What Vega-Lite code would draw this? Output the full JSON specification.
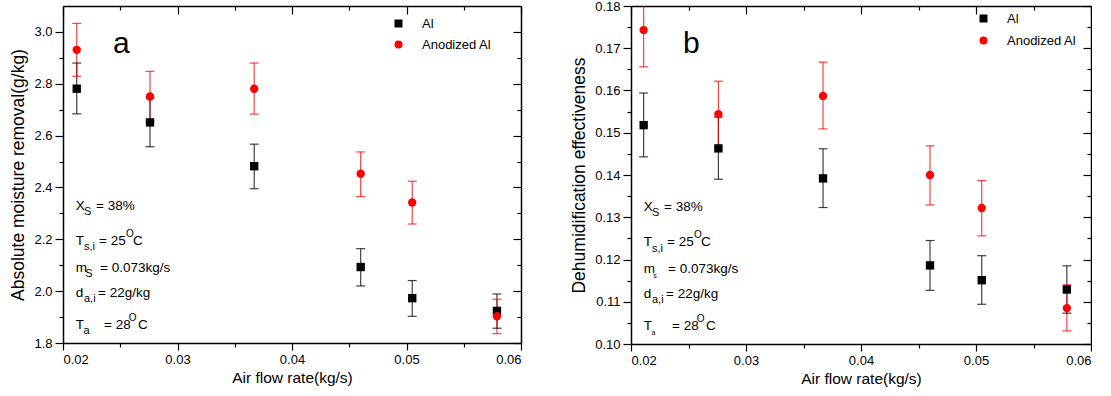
{
  "$schema": "https://vega.github.io/schema/vega-lite/v6.json",
  "padding": {"left": 9, "top": 0, "right": 0, "bottom": 0},
  "autosize": {"type": "pad"},
  "background": "white",
  "bounds": "flush",
  "spacing": 110,
  "config": {
    "font": "Liberation Sans",
    "view": {"stroke": null},
    "axis": {
      "grid": false,
      "domainColor": "black",
      "domainWidth": 1.5,
      "tickColor": "black",
      "tickWidth": 1.2,
      "labelColor": "black",
      "labelFontSize": 13,
      "labelFont": "Liberation Sans",
      "titleFont": "Liberation Sans",
      "titleColor": "black",
      "titleFontWeight": "normal",
      "labelPadding": 3
    },
    "legend": {"labelFont": "Liberation Sans", "labelColor": "black"}
  },
  "resolve": {"scale": {"color": "independent", "shape": "independent", "size": "independent"}},
  "datasets": {
    "a": [
      {"series": "Al", "x": 0.0212, "y": 2.781, "lo": 2.684, "hi": 2.880},
      {"series": "Al", "x": 0.0276, "y": 2.651, "lo": 2.557, "hi": 2.745},
      {"series": "Al", "x": 0.0367, "y": 2.482, "lo": 2.395, "hi": 2.567},
      {"series": "Al", "x": 0.0460, "y": 2.093, "lo": 2.020, "hi": 2.164},
      {"series": "Al", "x": 0.0505, "y": 1.973, "lo": 1.903, "hi": 2.041},
      {"series": "Al", "x": 0.0579, "y": 1.924, "lo": 1.857, "hi": 1.989},
      {"series": "Anodized Al", "x": 0.0212, "y": 2.931, "lo": 2.829, "hi": 3.033},
      {"series": "Anodized Al", "x": 0.0276, "y": 2.751, "lo": 2.655, "hi": 2.848},
      {"series": "Anodized Al", "x": 0.0367, "y": 2.781, "lo": 2.683, "hi": 2.880},
      {"series": "Anodized Al", "x": 0.0460, "y": 2.453, "lo": 2.365, "hi": 2.537},
      {"series": "Anodized Al", "x": 0.0505, "y": 2.342, "lo": 2.259, "hi": 2.424},
      {"series": "Anodized Al", "x": 0.0579, "y": 1.903, "lo": 1.836, "hi": 1.969}
    ],
    "b": [
      {"series": "Al", "x": 0.0211, "y": 0.1518, "lo": 0.1443, "hi": 0.1594},
      {"series": "Al", "x": 0.0276, "y": 0.1463, "lo": 0.1390, "hi": 0.1537},
      {"series": "Al", "x": 0.0367, "y": 0.1392, "lo": 0.1323, "hi": 0.1462},
      {"series": "Al", "x": 0.0460, "y": 0.1186, "lo": 0.1127, "hi": 0.1245},
      {"series": "Al", "x": 0.0505, "y": 0.1151, "lo": 0.1094, "hi": 0.1209},
      {"series": "Al", "x": 0.0579, "y": 0.1129, "lo": 0.1073, "hi": 0.1185},
      {"series": "Anodized Al", "x": 0.0211, "y": 0.1743, "lo": 0.1656, "hi": 0.1830},
      {"series": "Anodized Al", "x": 0.0276, "y": 0.1544, "lo": 0.1466, "hi": 0.1622},
      {"series": "Anodized Al", "x": 0.0367, "y": 0.1587, "lo": 0.1509, "hi": 0.1667},
      {"series": "Anodized Al", "x": 0.0460, "y": 0.1400, "lo": 0.1329, "hi": 0.1469},
      {"series": "Anodized Al", "x": 0.0505, "y": 0.1322, "lo": 0.1256, "hi": 0.1387},
      {"series": "Anodized Al", "x": 0.0579, "y": 0.1085, "lo": 0.1031, "hi": 0.1140}
    ],
    "notesA": [
      {"t": "a", "role": "big", "x": 0.02437, "y": 2.9197},
      {"t": "X", "role": "main", "x": 0.021109, "y": 2.3135},
      {"t": "S", "role": "sub", "x": 0.021834, "y": 2.2942},
      {"t": "= 38%", "role": "main", "x": 0.022882, "y": 2.3135},
      {"t": "T", "role": "main", "x": 0.021109, "y": 2.1784},
      {"t": "s,i", "role": "sub", "x": 0.021834, "y": 2.1571},
      {"t": "= 25", "role": "main", "x": 0.023144, "y": 2.1784},
      {"t": "O", "role": "sup", "x": 0.025502, "y": 2.2093},
      {"t": "C", "role": "main", "x": 0.026114, "y": 2.1784},
      {"t": "m", "role": "main", "x": 0.021109, "y": 2.0753},
      {"t": "S", "role": "sub", "x": 0.021948, "y": 2.0548},
      {"t": "= 0.073kg/s", "role": "main", "x": 0.023231, "y": 2.0753},
      {"t": "d", "role": "main", "x": 0.021109, "y": 1.9776},
      {"t": "a,i", "role": "sub", "x": 0.021834, "y": 1.9583},
      {"t": "= 22g/kg", "role": "main", "x": 0.023057, "y": 1.9776},
      {"t": "T", "role": "main", "x": 0.021109, "y": 1.8541},
      {"t": "a", "role": "sub", "x": 0.02179, "y": 1.8347},
      {"t": "= 28", "role": "main", "x": 0.023581, "y": 1.8541},
      {"t": "O", "role": "sup", "x": 0.025738, "y": 1.8849},
      {"t": "C", "role": "main", "x": 0.02655, "y": 1.8541}
    ],
    "notesB": [
      {"t": "b", "role": "big", "x": 0.02452, "y": 0.1688},
      {"t": "X", "role": "main", "x": 0.021104, "y": 0.13148},
      {"t": "S", "role": "sub", "x": 0.021826, "y": 0.13030},
      {"t": "= 38%", "role": "main", "x": 0.02287, "y": 0.13148},
      {"t": "T", "role": "main", "x": 0.021104, "y": 0.1232},
      {"t": "s,i", "role": "sub", "x": 0.021826, "y": 0.12189},
      {"t": "= 25", "role": "main", "x": 0.02313, "y": 0.1232},
      {"t": "O", "role": "sup", "x": 0.025478, "y": 0.12509},
      {"t": "C", "role": "main", "x": 0.026087, "y": 0.1232},
      {"t": "m", "role": "main", "x": 0.021104, "y": 0.11688},
      {"t": "s", "role": "tiny", "x": 0.021939, "y": 0.11562},
      {"t": "= 0.073kg/s", "role": "main", "x": 0.023217, "y": 0.11688},
      {"t": "d", "role": "main", "x": 0.021104, "y": 0.11089},
      {"t": "a,i", "role": "sub", "x": 0.021826, "y": 0.1097},
      {"t": "= 22g/kg", "role": "main", "x": 0.023043, "y": 0.11089},
      {"t": "T", "role": "main", "x": 0.021104, "y": 0.10331},
      {"t": "a", "role": "tiny", "x": 0.021783, "y": 0.10213},
      {"t": "= 28", "role": "main", "x": 0.023565, "y": 0.10331},
      {"t": "O", "role": "sup", "x": 0.025713, "y": 0.10521},
      {"t": "C", "role": "main", "x": 0.026522, "y": 0.10331}
    ]
  },
  "hconcat": [
    {
      "width": 458,
      "height": 337,
      "resolve": {"axis": {"x": "independent", "y": "independent"}},
      "layer": [
        {
          "data": {"name": "a"},
          "mark": {"type": "rule", "clip": true, "strokeWidth": 1.2, "opacity": 0.75},
          "encoding": {
            "x": {"field": "x", "type": "quantitative", "scale": {"domain": [0.02, 0.06], "nice": false, "zero": false},
              "axis": {"orient": "bottom", "values": [0.02, 0.03, 0.04, 0.05, 0.06], "format": ".2f", "title": "Air flow rate(kg/s)", "titleFontSize": 15.5, "titlePadding": 4, "tickSize": 7}},
            "y": {"field": "lo", "type": "quantitative", "scale": {"domain": [1.8, 3.1], "nice": false, "zero": false},
              "axis": {"orient": "left", "values": [1.8, 2.0, 2.2, 2.4, 2.6, 2.8, 3.0], "format": ".1f", "title": "Absolute moisture removal(g/kg)", "titleFontSize": 17.5, "titlePadding": 6, "tickSize": 8}},
            "y2": {"field": "hi"},
            "color": {"condition": {"test": "datum.series === 'Al'", "value": "black"}, "value": "#ff0000"}
          }
        },
        {
          "data": {"name": "a"},
          "mark": {"type": "tick", "orient": "horizontal", "clip": true, "size": 9, "thickness": 1.2, "opacity": 0.75},
          "encoding": {
            "x": {"field": "x", "type": "quantitative",
              "axis": {"orient": "bottom", "values": [0.025, 0.035, 0.045, 0.055], "labels": false, "title": null, "domain": false, "tickSize": 4}},
            "y": {"field": "lo", "type": "quantitative",
              "axis": {"orient": "left", "values": [1.9, 2.1, 2.3, 2.5, 2.7, 2.9], "labels": false, "title": null, "domain": false, "tickSize": 4}},
            "color": {"condition": {"test": "datum.series === 'Al'", "value": "black"}, "value": "#ff0000"}
          }
        },
        {
          "data": {"name": "a"},
          "mark": {"type": "tick", "orient": "horizontal", "clip": true, "size": 9, "thickness": 1.2, "opacity": 0.75},
          "encoding": {
            "x": {"field": "x", "type": "quantitative",
              "axis": {"orient": "top", "values": [0.02, 0.03, 0.04, 0.05, 0.06], "labels": false, "title": null, "tickSize": -8}},
            "y": {"field": "hi", "type": "quantitative",
              "axis": {"orient": "right", "values": [1.8, 2.0, 2.2, 2.4, 2.6, 2.8, 3.0], "labels": false, "title": null, "tickSize": -8}},
            "color": {"condition": {"test": "datum.series === 'Al'", "value": "black"}, "value": "#ff0000"}
          }
        },
        {
          "data": {"name": "a"},
          "mark": {"type": "point", "filled": true, "opacity": 1, "size": 70},
          "encoding": {
            "x": {"field": "x", "type": "quantitative",
              "axis": {"orient": "top", "values": [0.025, 0.035, 0.045, 0.055], "labels": false, "title": null, "domain": false, "tickSize": -4}},
            "y": {"field": "y", "type": "quantitative",
              "axis": {"orient": "right", "values": [1.9, 2.1, 2.3, 2.5, 2.7, 2.9], "labels": false, "title": null, "domain": false, "tickSize": -4}},
            "color": {"field": "series", "type": "nominal", "scale": {"domain": ["Al", "Anodized Al"], "range": ["black", "#ff0000"]},
              "legend": {"orient": "none", "legendX": 329, "legendY": 11, "title": null, "labelFontSize": 13, "labelOffset": 17, "symbolSize": 64, "rowPadding": 7, "padding": 0, "symbolStrokeWidth": 0}},
            "shape": {"field": "series", "type": "nominal", "scale": {"domain": ["Al", "Anodized Al"], "range": ["square", "circle"]},
              "legend": {"orient": "none", "legendX": 329, "legendY": 11, "title": null, "labelFontSize": 13, "labelOffset": 17, "symbolSize": 64, "rowPadding": 7, "padding": 0, "symbolStrokeWidth": 0}}
          }
        },
        {
          "data": {"name": "notesA"},
          "mark": {"type": "text", "align": "left", "baseline": "alphabetic", "color": "black"},
          "encoding": {
            "x": {"field": "x", "type": "quantitative", "axis": null},
            "y": {"field": "y", "type": "quantitative", "axis": null},
            "text": {"field": "t"},
            "size": {"field": "role", "type": "nominal", "scale": {"type": "ordinal", "domain": ["big", "main", "sub", "sup", "tiny"], "range": [30, 13.5, 11, 10, 7]}, "legend": null}
          }
        }
      ]
    },
    {
      "width": 460,
      "height": 338,
      "resolve": {"axis": {"x": "independent", "y": "independent"}},
      "layer": [
        {
          "data": {"name": "b"},
          "mark": {"type": "rule", "clip": true, "strokeWidth": 1.2, "opacity": 0.75},
          "encoding": {
            "x": {"field": "x", "type": "quantitative", "scale": {"domain": [0.02, 0.06], "nice": false, "zero": false},
              "axis": {"orient": "bottom", "values": [0.02, 0.03, 0.04, 0.05, 0.06], "format": ".2f", "title": "Air flow rate(kg/s)", "titleFontSize": 15.5, "titlePadding": 4, "tickSize": 7}},
            "y": {"field": "lo", "type": "quantitative", "scale": {"domain": [0.10, 0.18], "nice": false, "zero": false},
              "axis": {"orient": "left", "values": [0.10, 0.11, 0.12, 0.13, 0.14, 0.15, 0.16, 0.17, 0.18], "format": ".2f", "title": "Dehumidification effectiveness", "titleFontSize": 17.5, "titlePadding": 6, "tickSize": 8}},
            "y2": {"field": "hi"},
            "color": {"condition": {"test": "datum.series === 'Al'", "value": "black"}, "value": "#ff0000"}
          }
        },
        {
          "data": {"name": "b"},
          "mark": {"type": "tick", "orient": "horizontal", "clip": true, "size": 9, "thickness": 1.2, "opacity": 0.75},
          "encoding": {
            "x": {"field": "x", "type": "quantitative",
              "axis": {"orient": "bottom", "values": [0.025, 0.035, 0.045, 0.055], "labels": false, "title": null, "domain": false, "tickSize": 4}},
            "y": {"field": "lo", "type": "quantitative",
              "axis": {"orient": "left", "values": [0.105, 0.115, 0.125, 0.135, 0.145, 0.155, 0.165, 0.175], "labels": false, "title": null, "domain": false, "tickSize": 4}},
            "color": {"condition": {"test": "datum.series === 'Al'", "value": "black"}, "value": "#ff0000"}
          }
        },
        {
          "data": {"name": "b"},
          "mark": {"type": "tick", "orient": "horizontal", "clip": true, "size": 9, "thickness": 1.2, "opacity": 0.75},
          "encoding": {
            "x": {"field": "x", "type": "quantitative",
              "axis": {"orient": "top", "values": [0.02, 0.03, 0.04, 0.05, 0.06], "labels": false, "title": null, "tickSize": -8}},
            "y": {"field": "hi", "type": "quantitative",
              "axis": {"orient": "right", "values": [0.10, 0.11, 0.12, 0.13, 0.14, 0.15, 0.16, 0.17, 0.18], "labels": false, "title": null, "tickSize": -8}},
            "color": {"condition": {"test": "datum.series === 'Al'", "value": "black"}, "value": "#ff0000"}
          }
        },
        {
          "data": {"name": "b"},
          "mark": {"type": "point", "filled": true, "opacity": 1, "size": 70},
          "encoding": {
            "x": {"field": "x", "type": "quantitative",
              "axis": {"orient": "top", "values": [0.025, 0.035, 0.045, 0.055], "labels": false, "title": null, "domain": false, "tickSize": -4}},
            "y": {"field": "y", "type": "quantitative",
              "axis": {"orient": "right", "values": [0.105, 0.115, 0.125, 0.135, 0.145, 0.155, 0.165, 0.175], "labels": false, "title": null, "domain": false, "tickSize": -4}},
            "color": {"field": "series", "type": "nominal", "scale": {"domain": ["Al", "Anodized Al"], "range": ["black", "#ff0000"]},
              "legend": {"orient": "none", "legendX": 346, "legendY": 6, "title": null, "labelFontSize": 13, "labelOffset": 17, "symbolSize": 64, "rowPadding": 8, "padding": 0, "symbolStrokeWidth": 0}},
            "shape": {"field": "series", "type": "nominal", "scale": {"domain": ["Al", "Anodized Al"], "range": ["square", "circle"]},
              "legend": {"orient": "none", "legendX": 346, "legendY": 6, "title": null, "labelFontSize": 13, "labelOffset": 17, "symbolSize": 64, "rowPadding": 8, "padding": 0, "symbolStrokeWidth": 0}}
          }
        },
        {
          "data": {"name": "notesB"},
          "mark": {"type": "text", "align": "left", "baseline": "alphabetic", "color": "black"},
          "encoding": {
            "x": {"field": "x", "type": "quantitative", "axis": null},
            "y": {"field": "y", "type": "quantitative", "axis": null},
            "text": {"field": "t"},
            "size": {"field": "role", "type": "nominal", "scale": {"type": "ordinal", "domain": ["big", "main", "sub", "sup", "tiny"], "range": [30, 13.5, 11, 10, 7]}, "legend": null}
          }
        }
      ]
    }
  ]
}
